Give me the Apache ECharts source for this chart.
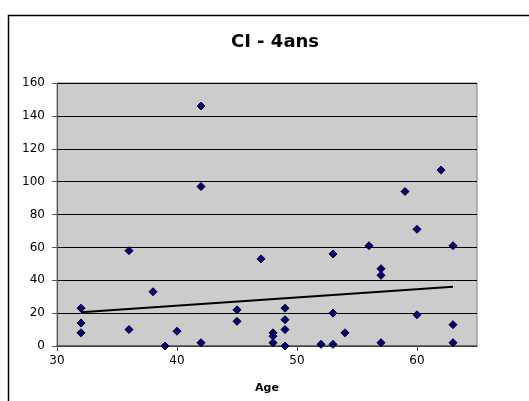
<!DOCTYPE html>
<html>
<head>
<meta charset="utf-8">
<script src="https://cdn.jsdelivr.net/npm/echarts@6/dist/echarts.min.js"></script>
<style>
  html, body { margin: 0; padding: 0; background: #fff; }
  #myChart { width: 529px; height: 401px; }
</style>
</head>
<body>
<div id="myChart"></div>
<script>
// ages (x) and CI values (y)
const ages = [32, 32, 32, 36, 36, 38, 39, 40, 42, 42, 42, 45, 45, 47, 48, 48, 48,
  49, 49, 49, 49, 52, 53, 53, 53, 54, 56, 57, 57, 57, 59, 60, 60, 62, 63, 63, 63];
const ciValues = [23, 14, 8, 58, 10, 33, 0, 9, 146, 97, 2, 22, 15, 53, 8, 6, 2,
  23, 16, 10, 0, 1, 56, 20, 1, 8, 61, 47, 43, 2, 94, 71, 19, 107, 61, 13, 2];
// linear trend line end points
const trendX = [32, 63];
const trendY = [20.5, 36];

const points = ages.map((a, i) => [a, ciValues[i]]);
const trend = trendX.map((a, i) => [a, trendY[i]]);

const chart = echarts.init(document.getElementById('myChart'));
chart.setOption({
  animation: false,
  textStyle: { fontFamily: 'DejaVu Sans' },
  title: {
    text: 'CI - 4ans',
    left: 270, top: 28, textAlign: 'center',
    textStyle: { fontSize: 18, fontWeight: 'bold', color: '#000', fontFamily: 'DejaVu Sans' }
  },
  graphic: [
    { type: 'rect', shape: { x: 8.5, y: 15.5, width: 600, height: 500 },
      style: { fill: null, stroke: '#000', lineWidth: 1.5 }, z: 100 }
  ],
  grid: {
    left: 57, top: 83, width: 420, height: 263,
    show: true, backgroundColor: '#cccccc', borderColor: '#808080', borderWidth: 1
  },
  xAxis: {
    type: 'value', min: 30, max: 65, interval: 10,
    name: 'Age', nameLocation: 'middle', nameGap: 37,
    nameTextStyle: { fontSize: 11, fontWeight: 'bold', color: '#000' },
    axisLine: { lineStyle: { color: '#555', width: 1.5 } },
    axisTick: { show: true, length: 5, lineStyle: { color: '#555' } },
    axisLabel: { color: '#000', fontSize: 12, margin: 9, showMaxLabel: false },
    splitLine: { show: false }
  },
  yAxis: {
    type: 'value', min: 0, max: 160, interval: 20,
    axisLine: { show: true, lineStyle: { color: '#555' } },
    axisTick: { show: true, length: 5, lineStyle: { color: '#555' } },
    axisLabel: { color: '#000', fontSize: 12, margin: 12 },
    splitLine: { show: true, lineStyle: { color: '#000', width: 1 } }
  },
  series: [
    {
      type: 'scatter', data: points,
      symbol: 'diamond', symbolSize: 8,
      itemStyle: { color: '#000080', borderColor: '#000', borderWidth: 1, opacity: 1 },
      z: 3
    },
    {
      type: 'line', data: trend, symbol: 'none',
      lineStyle: { color: '#000', width: 2 },
      z: 2
    }
  ]
});
</script>
</body>
</html>
